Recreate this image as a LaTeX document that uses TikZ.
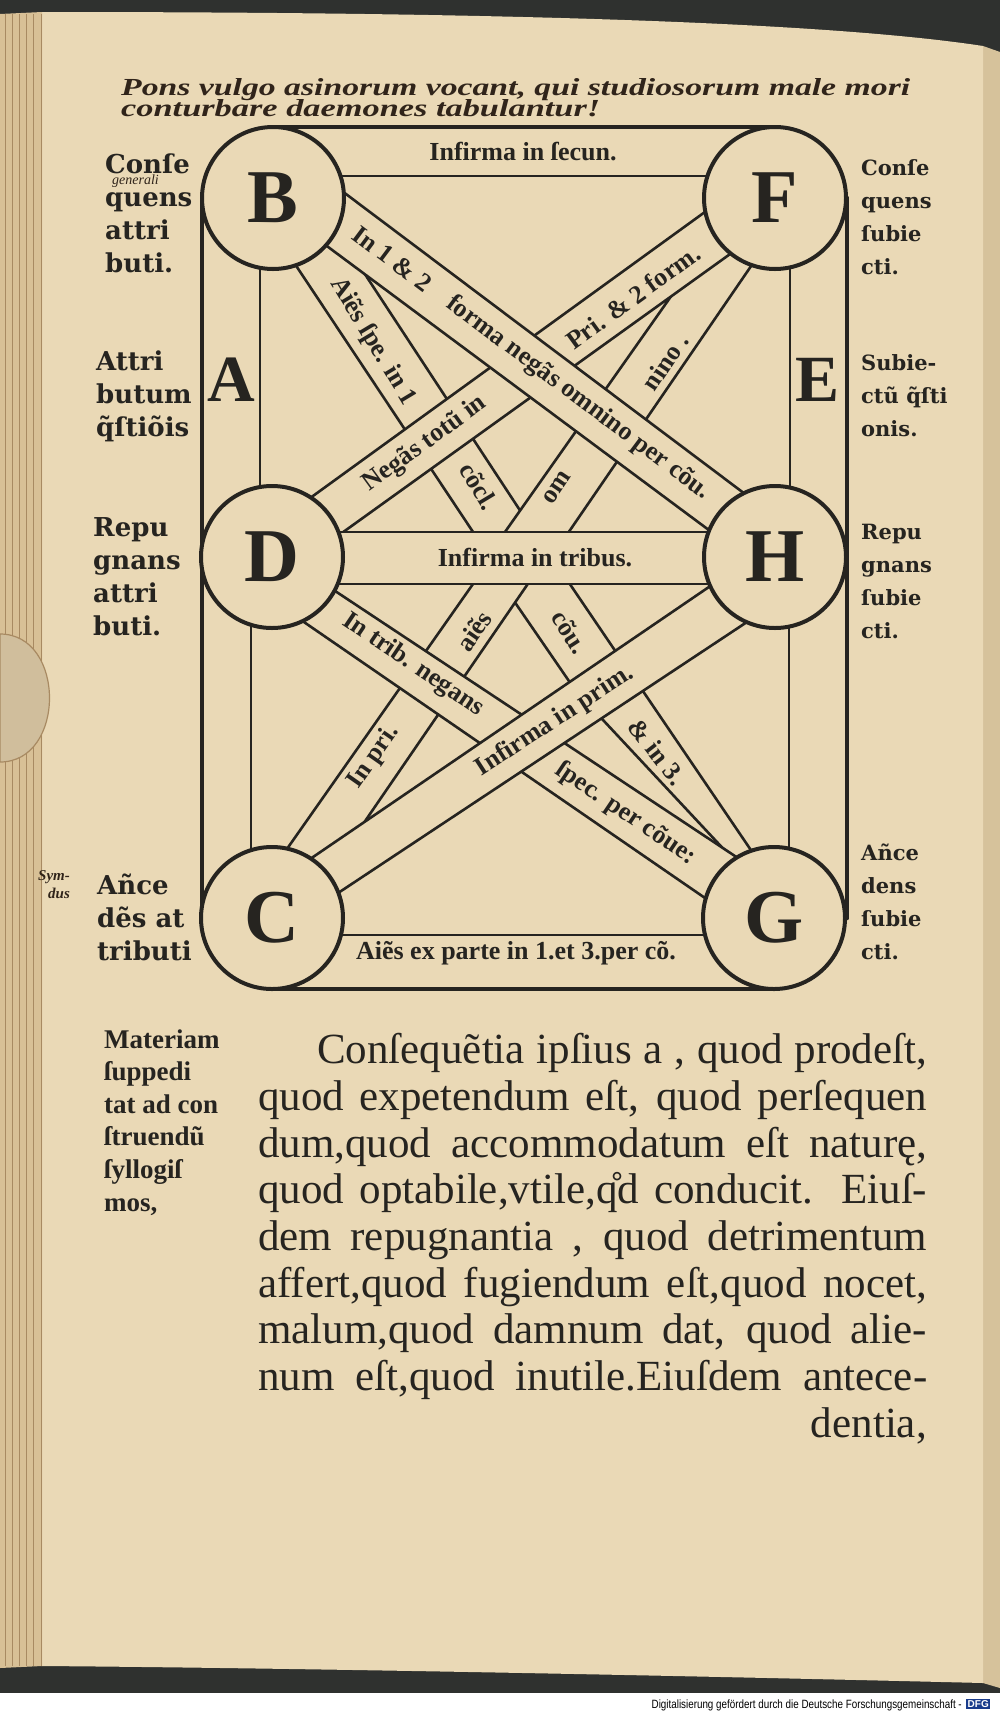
\documentclass[tikz,border=0pt]{standalone}
\usepackage{fontspec}
\setmainfont{Liberation Serif}
\newfontfamily\margfont{DejaVu Serif}
\newfontfamily\footfont{Liberation Sans}
\usetikzlibrary{calc}
\pgfdeclarelayer{page}
\pgfdeclarelayer{bands}
\pgfsetlayers{page,bands,main}
\definecolor{paper}{RGB}{234,217,182}
\definecolor{paperdark}{RGB}{214,194,155}
\definecolor{ink}{RGB}{38,36,32}
\definecolor{scanbg}{RGB}{47,49,47}
\definecolor{hand}{RGB}{48,36,26}
\definecolor{strip}{RGB}{216,192,150}
\definecolor{stripline}{RGB}{168,138,98}
\definecolor{clasp}{RGB}{208,190,156}
\definecolor{dfgblue}{RGB}{25,60,140}
\newcommand\mystack[1]{\begin{tabular}[t]{@{}l@{}}#1\end{tabular}}
\newcommand\drawband[4]{%
  \fill[paper] #1 -- #2 -- #4 -- #3 -- cycle;
  \draw[bandedge] #1 -- #2;
  \draw[bandedge] #3 -- #4;}
\tikzset{
  bandedge/.style={draw=ink,line width=2.6pt,line cap=round},
  innerl/.style={draw=ink,line width=2.8pt,line cap=round},
  framel/.style={draw=ink,line width=4.6pt,line cap=round},
  ring/.style={circle,draw=ink,line width=4pt,fill=paper,minimum size=142pt,inner sep=0pt,
     text=ink,font=\fontsize{76}{76}\selectfont\bfseries},
  bigletter/.style={text=ink,inner sep=0pt,font=\fontsize{66}{66}\selectfont\bfseries},
  lab/.style={font=\fontsize{26}{26}\selectfont\bfseries,text=ink,inner sep=0pt},
  marg/.style={font=\margfont\fontsize{26}{33}\selectfont\bfseries,text=ink,inner sep=0pt,anchor=base west},
  margr/.style={font=\margfont\fontsize{21}{33}\selectfont\bfseries,text=ink,inner sep=0pt,anchor=base west},
  margb/.style={font=\fontsize{27}{32.6}\selectfont\bfseries,text=ink,inner sep=0pt,anchor=base west},
  body/.style={font=\fontsize{43}{43}\selectfont,text=ink,inner sep=0pt,anchor=base west},
  handw/.style={font=\fontsize{22}{22}\selectfont\bfseries\itshape,text=hand,inner sep=0pt,anchor=base west},
}
\begin{document}
\begin{tikzpicture}[x=1pt,y=-1pt]
\useasboundingbox (0,0) rectangle (1000,1714);
% ---------------- page ----------------
\begin{pgfonlayer}{page}
\fill[white] (0,0) rectangle (1000,1714);
\fill[scanbg] (0,0) rectangle (1000,1693);
\fill[paperdark] (983,46) -- (1000,52) -- (1000,1688) -- (983,1683) -- cycle;
\fill[paper] (42,12) .. controls (400,12) and (800,18) .. (983,46) -- (983,1683)
   .. controls (700,1676) and (300,1668) .. (42,1666) -- cycle;
\fill[strip] (0,14) -- (42,12) -- (42,1666) -- (0,1668) -- cycle;
\foreach \xx in {5,12,19,26,33,41}
  \draw[stripline,line width=0.9pt] (\xx,14) -- (\xx,1666);
\fill[clasp,draw=stripline,line width=1.2pt] (0,634) .. controls (66,634) and (66,762) .. (0,762) -- cycle;
\end{pgfonlayer}
% ---------------- circles ----------------
\node[ring] (B) at (273,198) {B};
\node[ring] (F) at (775,198) {F};
\node[ring] (D) at (272,557) {D};
\node[ring] (H) at (775,557) {H};
\node[ring] (C) at (272,918) {C};
\node[ring] (G) at (774,918) {G};
\node[bigletter] (A) at (231,380) {A};
\node[bigletter] (E) at (818,380) {E};
% ---------------- lines and bands ----------------
\begin{pgfonlayer}{bands}
\draw[framel] ($(B.center)+(0,-71)$) -- ($(F.center)+(0,-71)$);
\draw[framel] ($(B.center)+(-71,0)$) -- ($(C.center)+(-70,0)$);
\draw[framel] ($(F.center)+(72,0)$) -- ($(G.center)+(73,0)$);
\draw[framel] ($(C.center)+(0,71)$) -- ($(G.center)+(0,71)$);
\draw[innerl] ($(B.center)+(-13,0)$) -- ($(D.center)+(-12,0)$);
\draw[innerl] ($(F.center)+(15,0)$) -- ($(H.center)+(15,0)$);
\draw[innerl] ($(D.center)+(-21,0)$) -- ($(C.center)+(-21,0)$);
\draw[innerl] ($(H.center)+(14,0)$) -- ($(G.center)+(15,0)$);
\draw[bandedge] ($(B.center)+(0,-22)$) -- ($(F.center)+(0,-22)$);
\draw[bandedge] ($(C.center)+(0,17)$) -- ($(G.center)+(0,17)$);
% upper section
\drawband{(277,237)}{(487,553)}{(334,227)}{(546,550)}
\drawband{(698,258)}{(493,549)}{(771,237)}{(553,555)}
\drawband{(727,196)}{(295,509)}{(751,239)}{(321,548)}
\drawband{(322,176)}{(761,506)}{(308,232)}{(729,545)}
% lower section
\drawband{(503,585)}{(582,700)}{(561,571)}{(635,680)}
\drawband{(575,690)}{(745,872)}{(630,672)}{(759,862)}
\drawband{(480,574)}{(282,856)}{(536,572)}{(348,846)}
\drawband{(311,575)}{(756,870)}{(285,609)}{(721,909)}
\drawband{(725,576)}{(294,870)}{(756,616)}{(320,905)}
% middle band
\fill[paper] ($(D.center)+(0,-25)$) rectangle ($(H.center)+(0,27)$);
\draw[bandedge] ($(D.center)+(0,-25)$) -- ($(H.center)+(0,-25)$);
\draw[bandedge] ($(D.center)+(0,27)$) -- ($(H.center)+(0,27)$);
\end{pgfonlayer}
% ---------------- band labels ----------------
\node[lab] (t1) at (523,152) {Infirma in ſecun.};
\node[lab,rotate=-36.8] (t2) at (392,259) {In 1 \& 2};
\node[lab,rotate=-36.8] (t3) at (578,398) {forma negãs omnino per cõu.};
\node[lab,rotate=36] (t4) at (633,297) {Pri. \& 2 form.};
\node[lab,rotate=36] (t5) at (425,444) {Negãs totũ in};
\node[lab,rotate=-59] (t6) at (373,342) {Aiẽs ſpe. in 1};
\node[lab,rotate=-59] (t7) at (479,486) {cõcl.};
\node[lab,rotate=56] (t8) at (665,362) {nino .};
\node[lab,rotate=56] (t9) at (557,488) {om};
\node[lab] (t10) at (535,558) {Infirma in tribus.};
\node[lab,rotate=-34] (t11) at (413,665) {In trib. negans};
\node[lab,rotate=-34] (t12) at (626,814) {ſpec. per cõue:};
\node[lab,rotate=33] (t13) at (555,721) {Infirma in prim.};
\node[lab,rotate=55] (t14) at (474,631) {aiẽs};
\node[lab,rotate=55] (t15) at (374,757) {In pri.};
\node[lab,rotate=-57] (t16) at (570,632) {cõu.};
\node[lab,rotate=-52] (t17) at (657,752) {\& in 3.};
\node[lab] (t18) at (516,953) {Aiẽs ex parte in 1.et 3.per cõ.};
% ---------------- margin notes ----------------
\node[marg] (m1) at (105,173) {\mystack{Conſe\\quens\\attri\\buti.}};
\node[marg] (m2) at (96,370) {\mystack{Attri\\butum\\q̃ſtiõis}};
\node[marg] (m3) at (93,536) {\mystack{Repu\\gnans\\attri\\buti.}};
\node[marg] (m4) at (97,894) {\mystack{Añce\\dẽs at\\tributi}};
\node[margr] (m5) at (861,175) {\mystack{Conſe\\quens\\ſubie\\cti.}};
\node[margr] (m6) at (861,370) {\mystack{Subie-\\ctũ q̃ſti\\onis.}};
\node[margr] (m7) at (861,539) {\mystack{Repu\\gnans\\ſubie\\cti.}};
\node[margr] (m8) at (861,860) {\mystack{Añce\\dens\\ſubie\\cti.}};
\node[margb] (m9) at (104,1048) {\mystack{Materiam\\ſuppedi\\tat ad con\\ſtruendũ\\ſyllogiſ\\mos,}};
% ---------------- body text ----------------
\node[body] (b1) at (317,1063) {\makebox[610pt][s]{Conſequẽtia ipſius a , quod prodeſt,}};
\node[body] (b2) at (258,1110) {\makebox[669pt][s]{quod expetendum eſt, quod perſequen}};
\node[body] (b3) at (258,1157) {\makebox[669pt][s]{dum,quod accommodatum eſt naturę,}};
\node[body] (b4) at (258,1203) {\makebox[669pt][s]{quod optabile,vtile,q̊d conducit. Eiuſ-}};
\node[body] (b5) at (258,1250) {\makebox[669pt][s]{dem repugnantia , quod detrimentum}};
\node[body] (b6) at (258,1297) {\makebox[669pt][s]{affert,quod fugiendum eſt,quod nocet,}};
\node[body] (b7) at (258,1343) {\makebox[669pt][s]{malum,quod damnum dat, quod alie-}};
\node[body] (b8) at (258,1390) {\makebox[669pt][s]{num eſt,quod inutile.Eiuſdem antece-}};
\node[body,anchor=base east] (b9) at (927,1437) {dentia,};
% ---------------- handwriting ----------------
\node[handw] (h1) at (121,95) {\resizebox{789pt}{17pt}{Pons vulgo asinorum vocant, qui studiosorum male mori}};
\node[handw] (h2) at (121,116) {\resizebox{479pt}{17pt}{conturbare daemones tabulantur!}};
\node[handw,font=\fontsize{14}{14}\selectfont\itshape] (h3) at (112,184) {generali};
\node[handw,font=\fontsize{15}{15}\selectfont\bfseries\itshape] (h4) at (38,880) {Sym-};
\node[handw,font=\fontsize{15}{15}\selectfont\bfseries\itshape] (h5) at (48,898) {dus};
% ---------------- footer ----------------
\node[anchor=base east,inner sep=0pt,font=\footfont\fontsize{12}{12}\selectfont] (foot) at (962,1708)
  {\scalebox{0.82}[1]{Digitalisierung gefördert durch die Deutsche Forschungsgemeinschaft -}};
\node[anchor=west,fill=dfgblue,text=white,inner sep=1.5pt,font=\footfont\bfseries\fontsize{10}{10}\selectfont] (dfg) at (966,1704) {DFG};
\end{tikzpicture}
\end{document}
